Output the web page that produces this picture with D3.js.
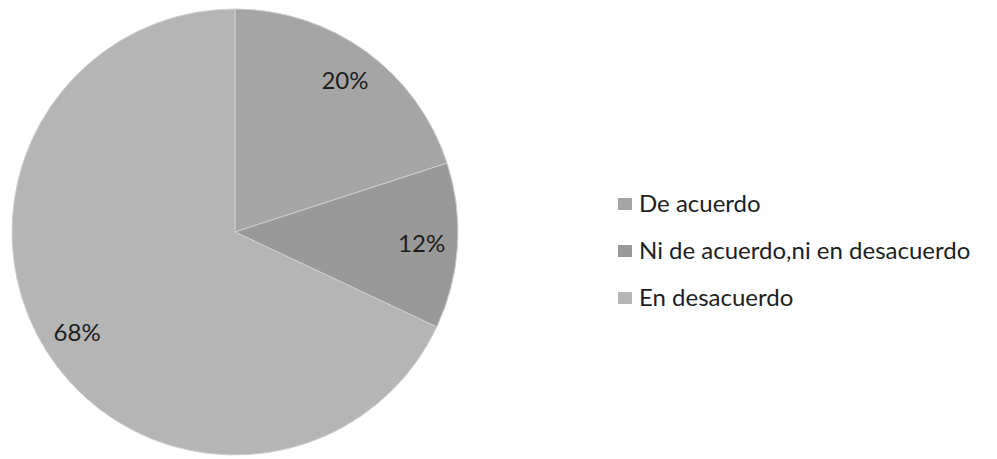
<!DOCTYPE html>
<html>
<head>
<meta charset="utf-8">
<script src="https://cdn.jsdelivr.net/npm/d3@7"></script>
<style>
  html, body { margin: 0; padding: 0; background: #fff; }
  svg { display: block; }
</style>
</head>
<body>
<svg id="chart" width="997" height="459"></svg>
<script>
const categories = ["De acuerdo", "Ni de acuerdo,ni en desacuerdo", "En desacuerdo"];
const values = [20, 12, 68];
const labels = ["20%", "12%", "68%"];
const colors = ["#a5a5a5", "#999999", "#b5b5b5"];

const svg = d3.select("#chart");
const cx = 235, cy = 232, r = 223;
const font = "Lato, 'Open Sans', sans-serif";

const pie = d3.pie().sort(null).value(d => d.v);
const data = categories.map((c, i) => ({ c, v: values[i], l: labels[i], col: colors[i] }));
const arcs = pie(data);
const arc = d3.arc().innerRadius(0).outerRadius(r);
const labelArc = d3.arc().innerRadius(187).outerRadius(187);

const g = svg.append("g").attr("transform", `translate(${cx},${cy})`);
g.selectAll("path").data(arcs).join("path")
  .attr("d", arc)
  .attr("fill", d => d.data.col)
  .attr("stroke", "#cfcfcf")
  .attr("stroke-width", 1);

g.selectAll("text").data(arcs).join("text")
  .attr("transform", d => `translate(${labelArc.centroid(d)})`)
  .attr("text-anchor", "middle")
  .attr("dy", "0.35em")
  .attr("font-family", font)
  .attr("font-size", 24)
  .attr("fill", "#1e1e1e")
  .text(d => d.data.l);

const legend = svg.append("g").attr("transform", "translate(618,204)");
const rowH = 47;
const item = legend.selectAll("g").data(data).join("g")
  .attr("transform", (d, i) => `translate(0,${i * rowH})`);
item.append("rect")
  .attr("x", 0).attr("y", -6).attr("width", 14).attr("height", 12)
  .attr("fill", d => d.col);
item.append("text")
  .attr("x", 21).attr("y", 0).attr("dy", "0.35em")
  .attr("font-family", font)
  .attr("font-size", 24)
  .attr("fill", "#1e1e1e")
  .text(d => d.c);
</script>
</body>
</html>
